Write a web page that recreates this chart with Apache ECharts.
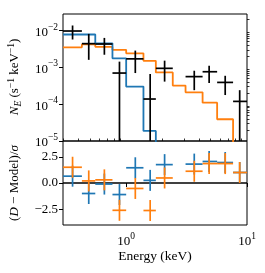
<!DOCTYPE html>
<html>
<head>
<meta charset="utf-8">
<script src="https://cdn.jsdelivr.net/npm/echarts@6/dist/echarts.min.js"></script>
<style>
html,body{margin:0;padding:0;background:#fff;}
#chart{width:265px;height:273px;}
</style>
</head>
<body>
<div id="chart"></div>
<script>
// ---- data ----
const binCenter = [0.36, 0.49, 0.66, 0.88, 1.19, 1.58, 2.08, 3.66, 4.86, 6.6, 8.7];
const binLow    = [0.30, 0.43, 0.555, 0.77, 1.0, 1.39, 1.76, 3.1, 4.29, 5.66, 7.67];
const binHigh   = [0.43, 0.555, 0.77, 1.0, 1.39, 1.76, 2.43, 4.29, 5.66, 7.67, 10];
const fluxValue = [0.0097, 0.0044, 0.0043, 0.0007, 0.0017, 0.000138, 0.00094, 0.00056, 0.00076, 0.00039, 0.000119];
const fluxUpper = [0.0137, 0.0081, 0.0063, 0.00143, 0.00285, 0.00066, 0.00152, 0.00081, 0.00111, 0.00059, 0.00024];
const fluxLower = [0.0057, 0.0016, 0.0022, null, 0.0007, null, 0.00041, 0.00024, 0.000376, 0.000177, null];

const modelEdges  = [0.3, 0.43, 0.555, 0.77, 1.0, 1.39, 1.76, 2.43, 3.1, 4.29, 5.66, 7.67, 10];
const modelBlue   = [0.0078, 0.0078, 0.0045, 0.00176, 0.0003, 0.0000188, 1e-7];
const modelOrange = [0.0035, 0.0042, 0.0036, 0.0030, 0.0024, 0.0015, 0.00073, 0.00032, 0.00021, 0.00011, 0.000039, 1e-7];

const residBlue   = [0.65, -1.0, -0.1, -1.1, 1.45, 0.25, 1.75, 1.8, 2.05, 1.95, 1.0];
const residOrange = [1.5, 0.2, 0.3, -2.6, -0.52, -2.62, 0.48, 1.12, 1.85, 1.85, 1.0];
const residErr    = [1, 1, 1, 1, 1, 1, 1, 1, 1, 1, 1];

const xMajorTicks = [1, 10];
const xMinorTicks = [0.3, 0.4, 0.5, 0.6, 0.7, 0.8, 0.9, 2, 3, 4, 5, 6, 7, 8, 9];
const yMajorTicks = [1e-5, 1e-4, 1e-3, 1e-2];
const yMinorTicks = [];
[1e-5, 1e-4, 1e-3, 1e-2].forEach(d => { for (let k = 2; k <= 9; k++) { const v = d * k; if (v <= 0.028) yMinorTicks.push(+v.toPrecision(3)); } });
const residTicks = [-2.5, 0, 2.5];

// ---- styling ----
const BLUE = '#1f77b4', ORANGE = '#ff7f0e';
const FONT = 'Liberation Serif';
const X_MIN = 0.3, X_MAX = 10, Y_MIN = 1e-5, Y_MAX = 0.0281, R_MIN = -4, R_MAX = 4;

function steps(edges, vals) {
  const pts = [];
  for (let i = 0; i < vals.length; i++) { pts.push([edges[i], vals[i]]); pts.push([edges[i + 1], vals[i]]); }
  return pts;
}
function sup(v) {
  const e = Math.round(Math.log10(v));
  return '{b|10}{s|' + (e < 0 ? '\u2212' + (-e) : e) + '}';
}
const powRich = {
  b: { fontFamily: FONT, fontSize: 13, color: '#000', lineHeight: 17, verticalAlign: 'bottom' },
  s: { fontFamily: FONT, fontSize: 9.5, color: '#000', verticalAlign: 'top', lineHeight: 17 }
};
function crossRender(xs, lo, hi, ys, ylo, yhi, color, yFloor) {
  return function (params, api) {
    const i = params.dataIndex;
    const a = api.coord([lo[i], ys[i]]);
    const b = api.coord([hi[i], ys[i]]);
    const c = api.coord([xs[i], ys[i]]);
    const t = api.coord([xs[i], yhi[i]]);
    const d = api.coord([xs[i], ylo[i] == null ? yFloor : ylo[i]]);
    const st = { stroke: color, lineWidth: 1.7, fill: null };
    return { type: 'group', children: [
      { type: 'line', shape: { x1: a[0], y1: a[1], x2: b[0], y2: b[1] }, style: st },
      { type: 'line', shape: { x1: c[0], y1: t[1], x2: c[0], y2: d[1] }, style: st }
    ]};
  };
}
const residUpB = residBlue.map((v, i) => v + residErr[i]);
const residLoB = residBlue.map((v, i) => v - residErr[i]);
const residUpO = residOrange.map((v, i) => v + residErr[i]);
const residLoO = residOrange.map((v, i) => v - residErr[i]);

const L = 63, W = 184, T0 = 14, H0 = 127, T1 = 141, H1 = 84;

const option = {
  animation: false,
  backgroundColor: '#fff',
  grid: [
    { left: L, top: T0, width: W, height: H0, show: true, borderColor: '#000', borderWidth: 1, backgroundColor: 'transparent' },
    { left: L, top: T1, width: W, height: H1, show: true, borderColor: '#000', borderWidth: 1, backgroundColor: 'transparent' }
  ],
  xAxis: [
    { type: 'log', gridIndex: 0, min: X_MIN, max: X_MAX, axisLine: { show: false }, axisTick: { show: false }, axisLabel: { show: false }, splitLine: { show: false } },
    { type: 'log', gridIndex: 1, min: X_MIN, max: X_MAX, axisLine: { show: false }, splitLine: { show: false },
      axisTick: { show: true, customValues: xMajorTicks, length: 4, lineStyle: { color: '#000', width: 1 } },
      axisLabel: { show: true, customValues: xMajorTicks, margin: 6, formatter: v => sup(v), rich: powRich } },
    { type: 'log', gridIndex: 1, min: X_MIN, max: X_MAX, axisLine: { show: false }, splitLine: { show: false },
      axisTick: { show: true, customValues: xMinorTicks, length: 2.5, lineStyle: { color: '#000', width: 0.8 } },
      axisLabel: { show: false } }
  ],
  yAxis: [
    { type: 'log', gridIndex: 0, min: Y_MIN, max: Y_MAX, axisLine: { show: false }, splitLine: { show: false },
      axisTick: { show: true, customValues: yMajorTicks, length: 4, lineStyle: { color: '#000', width: 1 } },
      axisLabel: { show: true, customValues: yMajorTicks, margin: 5, formatter: v => sup(v), rich: powRich } },
    { type: 'log', gridIndex: 0, min: Y_MIN, max: Y_MAX, axisLine: { show: false }, splitLine: { show: false },
      axisTick: { show: true, customValues: yMinorTicks, length: 2.5, lineStyle: { color: '#000', width: 0.8 } },
      axisLabel: { show: false } },
    { type: 'value', gridIndex: 1, min: R_MIN, max: R_MAX, axisLine: { show: false }, splitLine: { show: false },
      axisTick: { show: true, customValues: residTicks, length: 4, lineStyle: { color: '#000', width: 1 } },
      axisLabel: { show: true, customValues: residTicks, margin: 5, fontFamily: FONT, fontSize: 13, color: '#000',
        formatter: v => (v < 0 ? '\u2212' : '') + Math.abs(v).toFixed(1) } }
  ],
  series: [
    { type: 'line', xAxisIndex: 0, yAxisIndex: 0, data: steps(modelEdges, modelOrange), symbol: 'none', lineStyle: { color: ORANGE, width: 1.8 }, clip: true, z: 2 },
    { type: 'line', xAxisIndex: 0, yAxisIndex: 0, data: steps(modelEdges, modelBlue), symbol: 'none', lineStyle: { color: BLUE, width: 1.8 }, clip: true, z: 2 },
    { type: 'custom', xAxisIndex: 0, yAxisIndex: 0, clip: true, z: 3,
      data: binCenter.map((x, i) => [x, fluxValue[i]]), encode: { x: 0, y: 1 },
      renderItem: crossRender(binCenter, binLow, binHigh, fluxValue, fluxLower, fluxUpper, '#000', Y_MIN) },
    { type: 'line', xAxisIndex: 1, yAxisIndex: 2, data: [[X_MIN, 0], [X_MAX, 0]], symbol: 'none', lineStyle: { color: '#000', width: 1.4 }, z: 2 },
    { type: 'custom', xAxisIndex: 1, yAxisIndex: 2, clip: true, z: 3,
      data: binCenter.map((x, i) => [x, residBlue[i]]), encode: { x: 0, y: 1 },
      renderItem: crossRender(binCenter, binLow, binHigh, residBlue, residLoB, residUpB, BLUE, R_MIN) },
    { type: 'custom', xAxisIndex: 1, yAxisIndex: 2, clip: true, z: 4,
      data: binCenter.map((x, i) => [x, residOrange[i]]), encode: { x: 0, y: 1 },
      renderItem: crossRender(binCenter, binLow, binHigh, residOrange, residLoO, residUpO, ORANGE, R_MIN) }
  ],
  graphic: [
    { type: 'text', x: 15, y: 77, rotation: Math.PI / 2,
      style: { text: '{i|N}{sub|E} (s{sp|\u22121} keV{sp|\u22121})', fill: '#000', align: 'center', verticalAlign: 'middle',
        font: '13px ' + FONT,
        rich: {
          i: { fontFamily: FONT, fontStyle: 'italic', fontSize: 13, lineHeight: 17, verticalAlign: 'middle' },
          sub: { fontFamily: FONT, fontStyle: 'italic', fontSize: 9.5, lineHeight: 17, verticalAlign: 'bottom' },
          sp: { fontFamily: FONT, fontSize: 9.5, lineHeight: 17, verticalAlign: 'top' }
        } } },
    { type: 'text', x: 15, y: 183, rotation: Math.PI / 2,
      style: { text: '({i|D} \u2212 Model)/{i|\u03c3}', fill: '#000', align: 'center', verticalAlign: 'middle',
        font: '13px ' + FONT,
        rich: { i: { fontFamily: FONT, fontStyle: 'italic', fontSize: 13 } } } },
    { type: 'text', x: 155, y: 256,
      style: { text: 'Energy (keV)', fill: '#000', align: 'center', verticalAlign: 'middle', font: '13.5px ' + FONT } }
  ]
};
const chart = echarts.init(document.getElementById('chart'), null, { renderer: 'canvas' });
chart.setOption(option);
</script>
</body>
</html>
